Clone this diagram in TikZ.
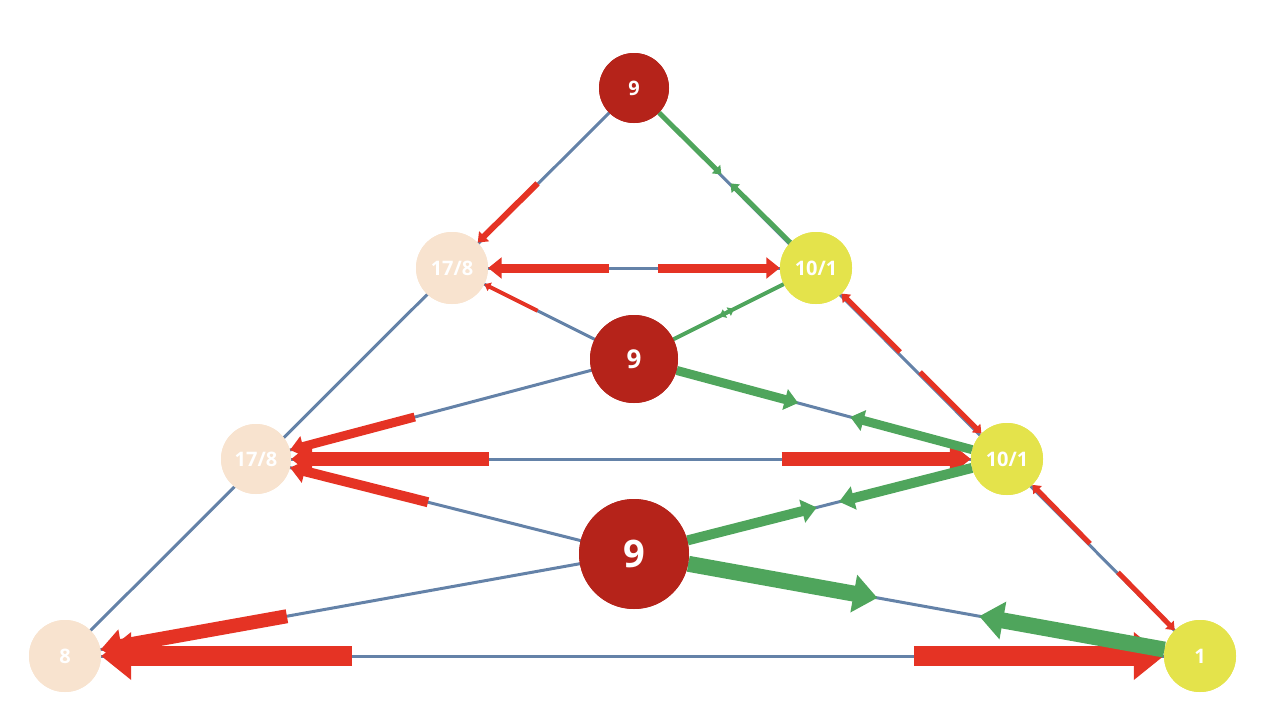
\documentclass[tikz,border=0pt]{standalone}
\usepackage{fontspec}
\setmainfont{Open Sans}
\usetikzlibrary{arrows.meta,calc}
\definecolor{dred}{HTML}{B5231A}
\definecolor{peach}{HTML}{F8E3CF}
\definecolor{yel}{HTML}{E4E34B}
\definecolor{bl}{HTML}{6482A8}
\definecolor{rr}{HTML}{E53324}
\definecolor{gg}{HTML}{4FA55C}
\tikzset{
 nd/.style={circle,inner sep=0pt,minimum size=#1,text=white,font=\bfseries\fontsize{20}{20}\selectfont},
 ln/.style={draw=bl,line width=3},
 ra/.style={draw=rr,line width=#1,-{Triangle[length=0pt 1.5,width=0pt 2.3]}},
 ga/.style={draw=gg,line width=#1,-{Triangle[length=0pt 1.5,width=0pt 2.3]}}
}
\begin{document}
\begin{tikzpicture}[x=1pt,y=-1pt]
\useasboundingbox (0,0) rectangle (1268,720);
\coordinate (cT) at (634,88);
\coordinate (cA8) at (452,268);
\coordinate (cA1) at (816,268);
\coordinate (cM) at (634,359);
\coordinate (cB8) at (256,459);
\coordinate (cB1) at (1007,459);
\coordinate (cL) at (634,554);
\coordinate (cC8) at (65,656);
\coordinate (cC1) at (1200,656);
% blue lines
\draw[ln] (cT)--(cC8); \draw[ln] (cT)--(cC1);
\draw[ln] (cA8)--(cA1); \draw[ln] (cA8)--(cM); \draw[ln] (cA1)--(cM);
\draw[ln] (cB8)--(cB1); \draw[ln] (cB8)--(cM); \draw[ln] (cB1)--(cM);
\draw[ln] (cB8)--(cL); \draw[ln] (cB1)--(cL);
\draw[ln] (cC8)--(cL); \draw[ln] (cC1)--(cL); \draw[ln] (cC8)--(cC1);
% nodes
\node[nd=70,fill=dred] (T) at (cT) {9};
\node[nd=72,fill=peach] (A8) at (cA8) {17/8};
\node[nd=72,fill=yel] (A1) at (cA1) {10/1};
\node[nd=88,fill=dred,font=\bfseries\fontsize{26}{26}\selectfont] (M) at (cM) {9};
\node[nd=70,fill=peach] (B8) at (cB8) {17/8};
\node[nd=72,fill=yel] (B1) at (cB1) {10/1};
\node[nd=110,fill=dred,font=\bfseries\fontsize{38}{38}\selectfont] (L) at (cL) {9};
\node[nd=72,fill=peach] (C8) at (cC8) {8};
\node[nd=72,fill=yel] (C1) at (cC1) {1};
% red arrows
\draw[ra=6] ($(cT)!0.53!(cA8)$) -- (A8);
\draw[ra=9] ($(cA8)!0.43!(cA1)$) -- (A8);
\draw[ra=9] ($(cA8)!0.566!(cA1)$) -- (A1);
\draw[ra=4] ($(cA8)!0.47!(cM)$) -- (A8);
\draw[ra=5] ($(cA1)!0.44!(cB1)$) -- (A1);
\draw[ra=5] ($(cA1)!0.545!(cB1)$) -- (B1);
\draw[ra=9] ($(cB8)!0.42!(cM)$) -- (B8);
\draw[ra=14] ($(cB8)!0.31!(cB1)$) -- (B8);
\draw[ra=14] ($(cB8)!0.70!(cB1)$) -- (B1);
\draw[ra=10] ($(cB8)!0.455!(cL)$) -- (B8);
\draw[ra=5] ($(cB1)!0.43!(cC1)$) -- (B1);
\draw[ra=5] ($(cB1)!0.575!(cC1)$) -- (C1);
\draw[ra=14] ($(cC8)!0.39!(cL)$) -- (C8);
\draw[ra=20] ($(cC8)!0.253!(cC1)$) -- (C8);
\draw[ra=20] ($(cC8)!0.748!(cC1)$) -- (C1);
% green arrows
\draw[ga=5] (T) -- ($(cT)!0.48!(cA1)$);
\draw[ga=5] (A1) -- ($(cT)!0.53!(cA1)$);
\draw[ga=4] (M) -- ($(cM)!0.55!(cA1)$);
\draw[ga=4] (A1) -- ($(cM)!0.47!(cA1)$);
\draw[ga=9] (M) -- ($(cM)!0.44!(cB1)$);
\draw[ga=9] (B1) -- ($(cM)!0.58!(cB1)$);
\draw[ga=10] (L) -- ($(cL)!0.49!(cB1)$);
\draw[ga=10] (B1) -- ($(cL)!0.55!(cB1)$);
\draw[ga=16] (L) -- ($(cL)!0.43!(cC1)$);
\draw[ga=16] (C1) -- ($(cL)!0.61!(cC1)$);
% redraw node fills on top of arrows
\node[nd=70,fill=dred] at (cT) {9};
\node[nd=72,fill=peach] at (cA8) {17/8};
\node[nd=72,fill=yel] at (cA1) {10/1};
\node[nd=88,fill=dred,font=\bfseries\fontsize{26}{26}\selectfont] at (cM) {9};
\node[nd=70,fill=peach] at (cB8) {17/8};
\node[nd=72,fill=yel] at (cB1) {10/1};
\node[nd=110,fill=dred,font=\bfseries\fontsize{38}{38}\selectfont] at (cL) {9};
\node[nd=72,fill=peach] at (cC8) {8};
\node[nd=72,fill=yel] at (cC1) {1};
\end{tikzpicture}
\end{document}
